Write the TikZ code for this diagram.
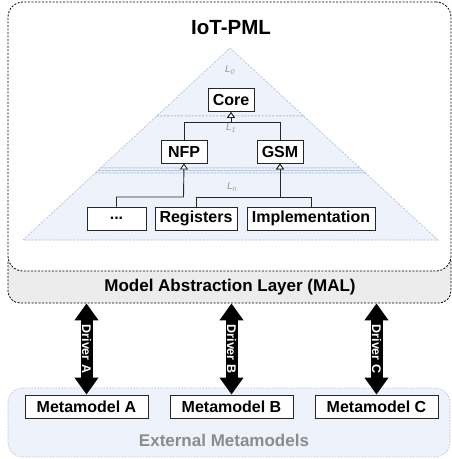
\documentclass[tikz,border=0pt]{standalone}
\usepackage{fontspec}
\setmainfont{Liberation Sans}
\usetikzlibrary{arrows.meta,calc}
\definecolor{layerfill}{HTML}{EEF3FB}
\definecolor{layeredge}{HTML}{A9BAD8}
\definecolor{malfill}{HTML}{ECECEC}
\definecolor{extedge}{HTML}{B5BFCC}
\definecolor{labelgray}{HTML}{8C8C8C}
\begin{document}
\begin{tikzpicture}[x=1pt,y=1pt,
  cls/.style={draw=black!85, line width=0.9pt, fill=white,
    font=\bfseries\fontsize{16}{18}\selectfont, minimum height=23pt,
    inner xsep=1.5pt, inner ysep=0pt},
  inh/.style={draw=black!85, line width=0.9pt,
    -{Triangle[open,fill=white,width=8pt,length=6pt]}},
  layer/.style={fill=layerfill, draw=layeredge, line width=0.6pt,
    dash pattern=on 2pt off 1.5pt},
  llabel/.style={text=black!40, font=\itshape\fontsize{10}{12}\selectfont},
  container/.style={draw=black, line width=0.8pt, dash pattern=on 2pt off 1.5pt},
  bigarrow/.style={line width=12pt,
    {Triangle[width=23pt,length=17pt]}-{Triangle[width=23pt,length=17pt]}},
  drv/.style={midway, rotate=-90, text=white,
    font=\bfseries\fontsize{12.5}{14}\selectfont}
]
\useasboundingbox (0,0) rectangle (452,-459);

% model abstraction layer sits behind the IoT-PML container
\node[container, fill=malfill, rounded corners=12pt,
      minimum width=443pt, minimum height=53pt] (mal) at (229.5,-276.5) {};
\node[container, fill=white, rounded corners=15pt,
      minimum width=443pt, minimum height=269pt] (iot) at (229.5,-136.5) {};
\node[font=\bfseries\fontsize{20.5}{24}\selectfont] (title) at (231,-28) {IoT-PML};
\node[font=\bfseries\fontsize{17}{20}\selectfont] (maltext) at (230,-287)
  {Model Abstraction Layer (MAL)};

% layered pyramid
\path[layer] (230,-48) -- (303.6,-116) -- (156.7,-116) -- cycle;
\path[layer] (156.7,-116) -- (303.6,-116) -- (360,-168) -- (100.6,-168) -- cycle;
\path[layer] (100.6,-168) -- (360,-168) -- (362.7,-170.5) -- (97.9,-170.5) -- cycle;
\path[layer] (97.9,-170.5) -- (362.7,-170.5) -- (365.4,-173) -- (95.2,-173) -- cycle;
\path[layer] (95.2,-173) -- (365.4,-173) -- (438,-240) -- (23,-240) -- cycle;

\node[llabel] (l0) at (230,-70) {L\textsubscript{0}};
\node[llabel] (l1) at (231,-128) {L\textsubscript{1}};
\node[llabel] (ln) at (232,-187) {L\textsubscript{n}};

% metamodel classes
\node[cls, minimum width=46pt] (core) at (231,-100) {Core};
\node[cls, minimum width=46pt] (nfp) at (184,-151.5) {NFP};
\node[cls, minimum width=46pt] (gsm) at (280,-151.5) {GSM};
\node[cls, minimum width=59pt] (dots) at (116.5,-218.5) {...};
\node[cls, minimum width=82pt] (reg) at (196,-218.5) {Registers};
\node[cls, minimum width=128pt] (impl) at (311,-218.5) {Implementation};

% inheritance
\coordinate (j0) at (231,-122);
\coordinate (j1) at (183.5,-197);
\coordinate (j2) at (280,-197);
\draw[inh] (nfp.north) |- (j0) -- (core.south);
\draw[inh] (gsm.north) |- (j0) -- (core.south);
\draw[inh] (dots.north) |- (j1) -- (nfp.south);
\draw[inh] (reg.north) |- (j2) -- (gsm.south);
\draw[inh] (impl.north) |- (j2) -- (gsm.south);

% external metamodels
\node[draw=extedge, line width=0.7pt, dash pattern=on 1.5pt off 1.5pt,
      fill=layerfill, rounded corners=15pt,
      minimum width=442pt, minimum height=69pt] (ext) at (229,-422.5) {};
\node[text=labelgray, font=\bfseries\fontsize{17}{20}\selectfont] (exttext)
  at (224,-440) {External Metamodels};
\node[cls, minimum width=123pt] (mmA) at (86.5,-406.5) {Metamodel A};
\node[cls, minimum width=123pt] (mmB) at (231.5,-406.5) {Metamodel B};
\node[cls, minimum width=123pt] (mmC) at (376.5,-406.5) {Metamodel C};

% drivers
\draw[bigarrow] (mmA.north) -- (mmA.north |- mal.south) node[drv] {Driver A};
\draw[bigarrow] (mmB.north) -- (mmB.north |- mal.south) node[drv] {Driver B};
\draw[bigarrow] (mmC.north) -- (mmC.north |- mal.south) node[drv] {Driver C};
\end{tikzpicture}
\end{document}
